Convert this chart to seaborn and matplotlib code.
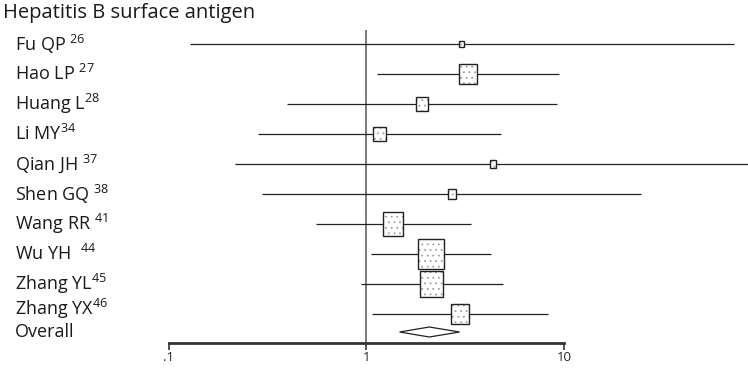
import numpy as np
import matplotlib
matplotlib.use("Agg")
import matplotlib.pyplot as plt
import matplotlib.transforms as mtransforms
from matplotlib.patches import Rectangle, Polygon
import seaborn as sns

# ---- data -----------------------------------------------------------------
title = "Hepatitis B surface antigen"
studies = ["Fu QP", "Hao LP", "Huang L", "Li MY", "Qian JH",
           "Shen GQ", "Wang RR", "Wu YH", "Zhang YL", "Zhang YX"]
label_gaps = [" ", " ", "", "", " ", " ", " ", "  ", "", ""]
refs = ["26", "27", "28", "34", "37", "38", "41", "44", "45", "46"]
ratio = [3.04, 3.26, 1.91, 1.17, 4.37, 2.71, 1.36, 2.11, 2.14, 2.97]
ci_low = [0.128, 1.13, 0.396, 0.282, 0.216, 0.296, 0.555, 1.05, 0.941, 1.066]
ci_high = [72.6, 9.43, 9.22, 4.80, 100.0, 24.5, 3.37, 4.25, 4.89, 8.33]
weight = [1.0, 11.4, 5.6, 6.4, 1.4, 2.8, 15.1, 25.6, 19.3, 11.4]
overall_label = "Overall"
overall_est, overall_low, overall_high = 2.08, 1.47, 2.96
tick_values = [0.1, 1, 10]
tick_labels = [".1", "1", "10"]

# ---- style ----------------------------------------------------------------
sns.set_theme(style="white")
plt.rcParams["font.family"] = ["Open Sans", "DejaVu Sans"]
plt.rcParams["mathtext.fontset"] = "custom"
plt.rcParams["mathtext.rm"] = "Open Sans"
plt.rcParams["hatch.linewidth"] = 0.6

W, H = 748, 368
px_per_decade = 197.5
x_one = 366.5          # pixel column of ratio = 1
row_px, row0_px = 30.0, 44.0
axis_px = 343.0

fig = plt.figure(figsize=(W / 100, H / 100), dpi=100)
fig.patch.set_facecolor("white")
ax = fig.add_axes([0, (H - axis_px) / H, 1, axis_px / H])
ax.set_xscale("log")
ax.set_xlim(10 ** (-x_one / px_per_decade), 10 ** ((W - x_one) / px_per_decade))
y_bottom = (axis_px - row0_px) / row_px
y_top = -row0_px / row_px
ax.set_ylim(y_bottom, y_top)

rows = np.arange(len(studies), dtype=float)
overall_row = 9.6

# line of no effect
ax.vlines(1, -0.47, y_bottom, color="#7a7a7a", lw=1.4, zorder=1)

# confidence intervals
ax.hlines(rows, ci_low, ci_high, color="#222222", lw=0.9, zorder=2)

# weighted boxes
for r, est, w in zip(rows, ratio, weight):
    h_px = 5.925 * np.sqrt(w)
    w_px = 0.87 * h_px
    half_dec = w_px / 2 / px_per_decade
    x0, x1 = est * 10 ** (-half_dec), est * 10 ** half_dec
    hh = h_px / row_px / 2
    ax.add_patch(Rectangle((x0, r - hh), x1 - x0, 2 * hh, facecolor="white",
                           edgecolor="#a0a0a0", hatch="...", lw=0, zorder=3))
    ax.add_patch(Rectangle((x0, r - hh), x1 - x0, 2 * hh, facecolor="none",
                           edgecolor="#222222", lw=1.0, zorder=4))

# pooled estimate diamond
dh = 10 / row_px / 2
ax.add_patch(Polygon([(overall_low, overall_row), (overall_est, overall_row - dh),
                      (overall_high, overall_row), (overall_est, overall_row + dh)],
                     closed=True, facecolor="white", edgecolor="#222222", lw=0.9,
                     zorder=4))

# axis
sns.despine(ax=ax, left=True, top=True, right=True, bottom=False)
ax.spines["bottom"].set_bounds(tick_values[0], tick_values[-1])
ax.spines["bottom"].set_linewidth(2.0)
ax.spines["bottom"].set_color("#333333")
ax.set_xticks(tick_values, tick_labels)
ax.xaxis.set_minor_locator(matplotlib.ticker.NullLocator())
ax.tick_params(axis="x", which="major", direction="out", length=5, width=1.2,
               color="#333333", labelsize=9.5, labelcolor="#222222", pad=0.5,
               bottom=True)
ax.set_yticks([])
ax.grid(False)
ax.set_facecolor("white")

# study labels
trans = mtransforms.blended_transform_factory(ax.transAxes, ax.transData)
label_rows = rows.copy()
label_rows[-1] -= 0.17
for r, name, gap, ref in zip(label_rows, studies, label_gaps, refs):
    ax.text(15 / W, r, f"{name}{gap}$^{{\\mathrm{{{ref}}}}}$", transform=trans,
            ha="left", va="center", fontsize=13, color="#1a1a1a")
ax.text(15 / W, overall_row, overall_label, transform=trans, ha="left",
        va="center", fontsize=13, color="#1a1a1a")
ax.text(3 / W, -1.03, title, transform=trans, ha="left", va="center",
        fontsize=14.5, color="#1a1a1a")

fig.savefig("out.png", dpi=100, facecolor="white")
